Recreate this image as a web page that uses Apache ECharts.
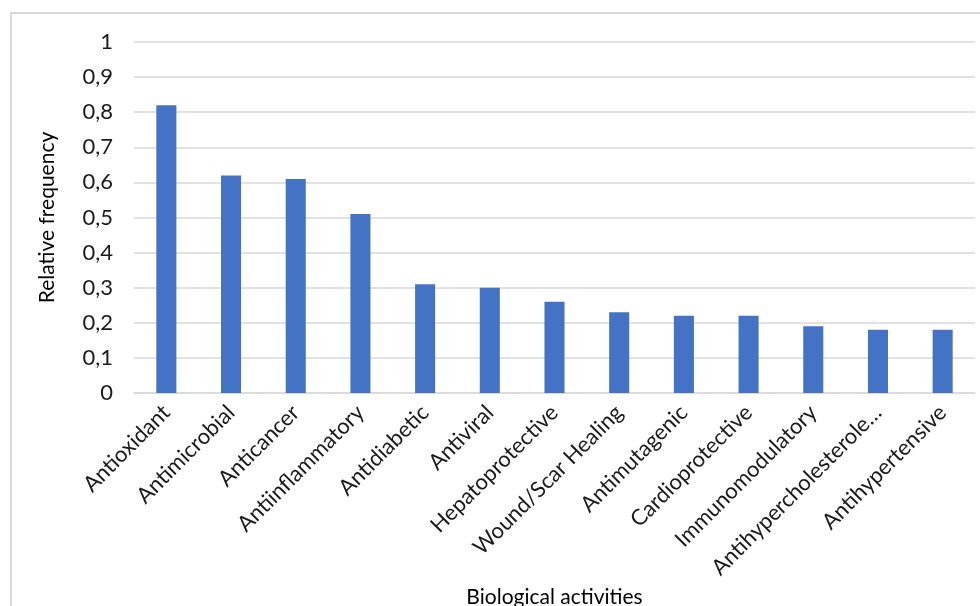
<!DOCTYPE html>
<html>
<head>
<meta charset="utf-8">
<script src="https://cdn.jsdelivr.net/npm/echarts@6/dist/echarts.min.js"></script>
<style>
  html, body { margin: 0; padding: 0; background: #fff; }
  #chart { width: 980px; height: 606px; }
</style>
</head>
<body>
<div id="chart"></div>
<script>
// categories and values
const activities = [
  'Antioxidant', 'Antimicrobial', 'Anticancer', 'Antiinflammatory', 'Antidiabetic',
  'Antiviral', 'Hepatoprotective', 'Wound/Scar Healing', 'Antimutagenic',
  'Cardioprotective', 'Immunomodulatory', 'Antihypercholesterole…', 'Antihypertensive'
]
const frequency = [0.82, 0.62, 0.61, 0.51, 0.31, 0.30, 0.26, 0.23, 0.22, 0.22, 0.19, 0.18, 0.18]

const font = 'Lato, "Open Sans", sans-serif'

let myChart = echarts.init(document.getElementById('chart'))
myChart.setOption({
  animation: false,
  graphic: [{
    type: 'rect',
    shape: { x: 11, y: 13, width: 1000, height: 700 },
    style: { fill: 'none', stroke: '#d9d9d9', lineWidth: 2 },
    silent: true
  }],
  grid: { left: 134, right: 5, top: 42, bottom: 213, containLabel: false, outerBoundsMode: 'none' },
  xAxis: {
    type: 'category',
    data: activities,
    name: 'Biological activities',
    nameLocation: 'middle',
    nameGap: 190,
    nameTextStyle: { fontFamily: font, fontSize: 21, color: '#000' },
    axisLine: { lineStyle: { color: '#d9d9d9', width: 1.5 } },
    axisTick: { show: false },
    axisLabel: {
      interval: 0,
      rotate: 45,
      margin: 16,
      fontFamily: font,
      fontSize: 22,
      color: '#1a1a1a'
    }
  },
  yAxis: {
    type: 'value',
    min: 0,
    max: 1,
    interval: 0.1,
    name: 'Relative frequency',
    nameLocation: 'middle',
    nameGap: 76,
    nameTextStyle: { fontFamily: font, fontSize: 21, color: '#000' },
    axisLine: { show: false },
    axisTick: { show: false },
    splitLine: { lineStyle: { color: '#d9d9d9', width: 1.5 } },
    axisLabel: {
      margin: 21,
      fontFamily: font,
      fontSize: 22,
      color: '#1a1a1a',
      formatter: v => String(Math.round(v * 10) / 10).replace('.', ',')
    }
  },
  series: [{
    type: 'bar',
    data: frequency,
    barWidth: '31%',
    itemStyle: { color: '#4472c4' }
  }]
})
</script>
</body>
</html>
